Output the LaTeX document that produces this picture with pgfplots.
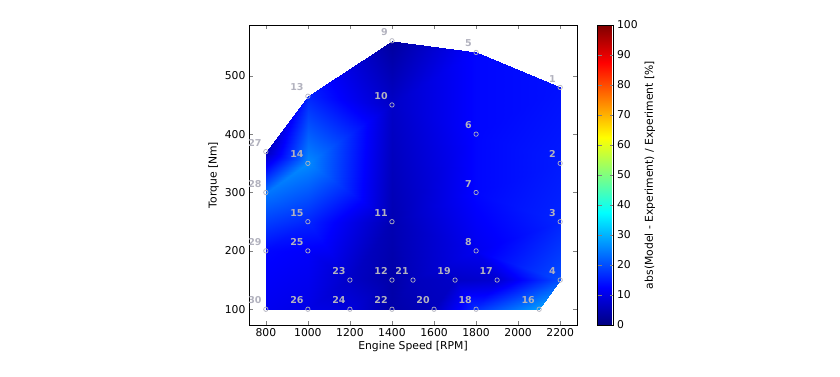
\documentclass[border=0pt]{standalone}
\usepackage{fontspec}
\setmainfont{DejaVu Sans}
\usepackage{pgfplots}
\pgfplotsset{compat=1.18}
\usepackage{pgfplotstable}
\definecolor{lbl}{RGB}{178,178,190}

\pgfplotstableread{
x y c
800 100 11
1000 100 10
800 200 13
1000 100 10
1000 200 12
800 200 13
1000 100 10
1200 100 9
1200 150 7
1000 100 10
1200 150 7
1000 200 12
1200 100 9
1400 100 4
1400 150 4
1200 100 9
1400 150 4
1200 150 7
1400 100 4
1600 100 6
1500 150 6
1400 100 4
1500 150 6
1400 150 4
1600 100 6
1700 150 7
1500 150 6
1600 100 6
1800 100 17
1700 150 7
1800 100 17
1900 150 8
1700 150 7
1800 100 17
2100 100 28
1900 150 8
2100 100 28
2200 150 20
1900 150 8
800 200 13
1000 200 12
1000 250 16
800 200 13
1000 250 16
800 300 24
1000 200 12
1200 150 7
1000 250 16
1000 250 16
1200 150 7
1400 250 5
1200 150 7
1400 150 4
1400 250 5
1400 150 4
1500 150 6
1400 250 5
1500 150 6
1700 150 7
1800 200 11
1500 150 6
1800 200 11
1400 250 5
1700 150 7
1900 150 8
1800 200 11
1900 150 8
2200 150 20
1800 200 11
2200 150 20
2200 250 16
1800 200 11
1800 200 11
2200 250 16
1800 300 13
1400 250 5
1800 200 11
1800 300 13
800 300 24
1000 250 16
1000 350 26
800 300 24
1000 350 26
800 370 6
1000 250 16
1400 250 5
1000 350 26
1000 350 26
1400 250 5
1400 450 7
1400 250 5
1800 300 13
1800 400 13
1400 250 5
1800 400 13
1400 450 7
1800 300 13
2200 250 16
2200 350 15
1800 300 13
2200 350 15
1800 400 13
1800 400 13
2200 350 15
2200 480 14
1800 400 13
2200 480 14
1800 540 13
1400 450 7
1800 400 13
1800 540 13
1400 450 7
1800 540 13
1400 560 3
1000 350 26
1400 450 7
1000 465 16
1000 465 16
1400 450 7
1400 560 3
800 370 6
1000 350 26
1000 465 16
}\tri

\pgfplotstableread{
x y n
2200 480 1
2200 350 2
2200 250 3
2200 150 4
1800 540 5
1800 400 6
1800 300 7
1800 200 8
1400 560 9
1400 450 10
1400 250 11
1400 150 12
1000 465 13
1000 350 14
1000 250 15
2100 100 16
1900 150 17
1800 100 18
1700 150 19
1600 100 20
1500 150 21
1400 100 22
1200 150 23
1200 100 24
1000 200 25
1000 100 26
800 370 27
800 300 28
800 200 29
800 100 30
}\pts

\begin{document}
\begin{tikzpicture}
\useasboundingbox (0pt,0pt) rectangle (840pt,376pt);
\begin{axis}[
  at={(249pt,51pt)}, anchor=south west,
  width=328pt, height=300pt, scale only axis,
  xmin=720, xmax=2280, ymin=73, ymax=587,
  xtick={800,1000,...,2200}, ytick={100,200,...,500},
  tick align=inside, major tick length=4pt,
  /pgf/number format/assume math mode=true,
  /pgf/number format/set thousands separator={},
  tick label style={font=\fontsize{10.8}{12}\selectfont},
  label style={font=\fontsize{10.8}{12}\selectfont},
  xlabel={Engine Speed [RPM]}, ylabel={Torque [Nm]},
  xlabel style={yshift=2pt}, ylabel style={yshift=-1pt},
  colormap/jet, point meta min=0, point meta max=100,
  colorbar,
  colorbar style={
    at={(parent axis.south east)}, anchor=south west, xshift=12pt,
    width=16pt, height=300pt,
    ytick={0,10,...,100}, yticklabel pos=right,
    ylabel={abs(Model - Experiment) / Experiment [\%]},
    ylabel near ticks,
    tick align=inside, major tick length=4pt,
    tick label style={font=\fontsize{10.8}{12}\selectfont},
    label style={font=\fontsize{10.8}{12}\selectfont},
    /pgf/number format/assume math mode=true,
  },
  axis line style={black},
  clip=true,
]
\addplot[patch, patch type=triangle, shader=interp, point meta=explicit]
  table[x=x, y=y, meta=c] {\tri};
\addplot[only marks, mark=o, mark size=2.2pt, color=lbl, line width=0.7pt,
  point meta=explicit symbolic, nodes near coords,
  nodes near coords style={anchor=south east, inner sep=0pt, xshift=-4pt, yshift=5pt,
    text=lbl, font=\fontsize{9.5}{10}\selectfont\bfseries}]
  table[x=x, y=y, meta=n] {\pts};
\end{axis}
\end{tikzpicture}
\end{document}
